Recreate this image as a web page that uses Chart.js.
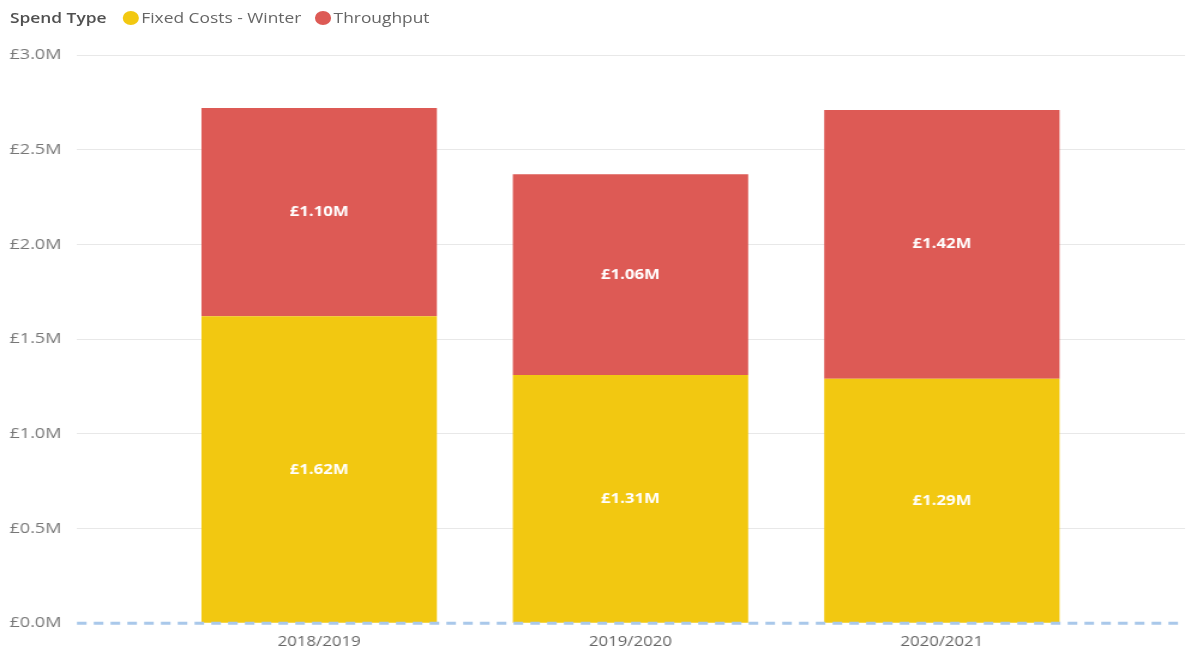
<!DOCTYPE html>
<html>
<head>
<meta charset="utf-8">
<script src="https://cdn.jsdelivr.net/npm/chart.js@4/dist/chart.umd.min.js"></script>
<style>
  html, body { margin: 0; padding: 0; background: #fff; }
  body { width: 1191px; height: 652px; position: relative; overflow: hidden; font-family: "Open Sans", sans-serif; }
  /* the reference is slightly stretched sideways, so the whole chart is drawn narrower and scaled */
  #legend { position: absolute; left: 0; top: 8px; padding-left: 8px; font-size: 14px; color: #666;
            display: flex; align-items: center; white-space: nowrap; transform: scaleX(1.24); transform-origin: 0 0; }
  #legend .title { color: #505050; font-weight: 600; margin-right: 13px; }
  #legend .dot { width: 13px; height: 14px; border-radius: 50%; display: inline-block; margin-right: 2px; }
  #legend .item { display: flex; align-items: center; margin-right: 11px; }
  #chart { position: absolute; left: 0; top: 0; width: 1191px !important; height: 652px !important; }
</style>
</head>
<body>
<canvas id="chart" width="993" height="652"></canvas>
<div id="legend"></div>
<script>
const years = ['2018/2019', '2019/2020', '2020/2021'];
const fixedCosts = [1.62, 1.31, 1.29];   // £M
const throughput = [1.10, 1.06, 1.42];   // £M
const seriesNames = ['Fixed Costs - Winter', 'Throughput'];
const seriesColors = ['#F2C811', '#DD5A55'];
const yTicks = [0, 0.5, 1.0, 1.5, 2.0, 2.5, 3.0];

// legend
const legend = document.getElementById('legend');
legend.innerHTML = '<span class="title">Spend Type</span>' +
  seriesNames.map((n, i) => '<span class="item"><span class="dot" style="background:' + seriesColors[i] + '"></span>' + n + '</span>').join('');

const money = v => '£' + v.toFixed(2) + 'M';

const labelPlugin = {
  id: 'segLabels',
  afterDatasetsDraw(chart) {
    const ctx = chart.ctx;
    // dashed zero line
    const y0 = chart.scales.y.getPixelForValue(0);
    ctx.save();
    ctx.strokeStyle = '#A9C8EA';
    ctx.lineWidth = 3;
    ctx.setLineDash([8, 6]);
    ctx.beginPath();
    ctx.moveTo(chart.chartArea.left, y0);
    ctx.lineTo(chart.chartArea.right, y0);
    ctx.stroke();
    ctx.restore();

    ctx.save();
    ctx.fillStyle = '#fff';
    ctx.font = 'bold 14px "Open Sans", sans-serif';
    ctx.textAlign = 'center';
    ctx.textBaseline = 'middle';
    chart.data.datasets.forEach((ds, di) => {
      chart.getDatasetMeta(di).data.forEach((bar, i) => {
        const p = bar.getProps(['x', 'y', 'base'], true);
        ctx.fillText(money(ds.data[i].y), p.x, (p.y + p.base) / 2);
      });
    });
    ctx.restore();
  }
};

new Chart(document.getElementById('chart'), {
  type: 'bar',
  data: {
    datasets: [
      { label: seriesNames[0], data: fixedCosts.map((v, i) => ({ x: i, y: v })), backgroundColor: seriesColors[0] },
      { label: seriesNames[1], data: throughput.map((v, i) => ({ x: i, y: v })), backgroundColor: seriesColors[1] }
    ]
  },
  options: {
    responsive: false,
    animation: false,
    barPercentage: 0.756,
    categoryPercentage: 1,
    layout: { padding: { top: 55, right: 5, left: 8, bottom: 0 } },
    plugins: { legend: { display: false }, tooltip: { enabled: false } },
    scales: {
      x: {
        type: 'linear',
        stacked: true,
        offset: false,
        min: -0.778,
        max: 2.781,
        afterBuildTicks: axis => { axis.ticks = years.map((_, i) => ({ value: i })); },
        ticks: {
          callback: v => years[v],
          color: '#666',
          font: { family: '"Open Sans", sans-serif', size: 14 },
          padding: 2,
          maxRotation: 0
        },
        grid: { display: false },
        border: { display: false }
      },
      y: {
        stacked: true,
        min: 0,
        max: 3,
        afterBuildTicks: axis => { axis.ticks = yTicks.map(v => ({ value: v })); },
        ticks: {
          callback: v => '£' + v.toFixed(1) + 'M',
          color: '#777',
          font: { family: '"Open Sans", sans-serif', size: 15 },
          padding: 6.5,
          crossAlign: 'far'
        },
        grid: {
          color: ctx => ctx.tick && ctx.tick.value === 0 ? 'rgba(0,0,0,0)' : '#E8E8E8',
          drawTicks: false
        },
        border: { display: false }
      }
    }
  },
  plugins: [labelPlugin]
});
</script>
</body>
</html>
